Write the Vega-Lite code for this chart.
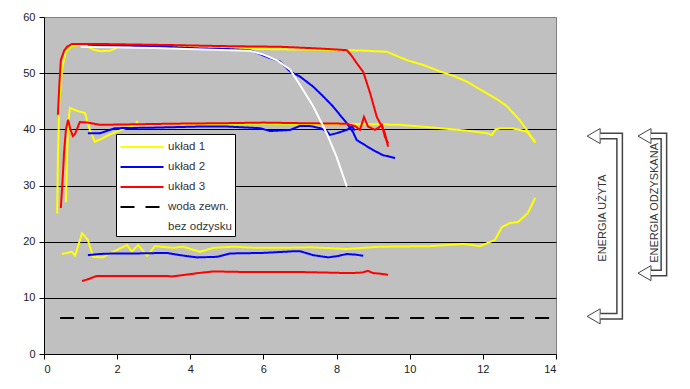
{
  "$schema": "https://vega.github.io/schema/vega-lite/v6.json",
  "autosize": "none",
  "width": 512,
  "height": 337,
  "padding": {"left": 44, "top": 17, "right": 134, "bottom": 35},
  "background": "white",
  "config": {
    "view": {"fill": "#C0C0C0", "stroke": "#808080", "strokeWidth": 1},
    "axis": {
      "domainColor": "black", "tickColor": "black", "tickSize": 5,
      "labelFont": "Liberation Sans", "labelFontSize": 11, "labelColor": "#222",
      "title": null
    },
    "legend": {
      "orient": "none", "legendX": 72, "legendY": 117,
      "fillColor": "white", "strokeColor": "black", "padding": 3,
      "symbolType": "M-2.39,0H2.39", "symbolSize": 324, "symbolStrokeWidth": 2,
      "labelFont": "Liberation Sans", "labelFontSize": 11.5, "labelColor": "#333",
      "labelOffset": 16, "rowPadding": 4, "symbolOffset": 13
    }
  },
  "datasets": {
    "main": [
      {"s": "układ 1", "c": "1a", "x": 0.36, "y": 25},
      {"s": "układ 1", "c": "1a", "x": 0.38, "y": 35},
      {"s": "układ 1", "c": "1a", "x": 0.42, "y": 45},
      {"s": "układ 1", "c": "1a", "x": 0.5, "y": 51},
      {"s": "układ 1", "c": "1a", "x": 0.6, "y": 53.8},
      {"s": "układ 1", "c": "1a", "x": 0.75, "y": 54.8},
      {"s": "układ 1", "c": "1a", "x": 1.0, "y": 55.0},
      {"s": "układ 1", "c": "1a", "x": 1.2, "y": 54.7},
      {"s": "układ 1", "c": "1a", "x": 1.35, "y": 54.2},
      {"s": "układ 1", "c": "1a", "x": 1.55, "y": 53.9},
      {"s": "układ 1", "c": "1a", "x": 1.8, "y": 54.0},
      {"s": "układ 1", "c": "1a", "x": 1.95, "y": 54.4},
      {"s": "układ 1", "c": "1a", "x": 2.05, "y": 54.8},
      {"s": "układ 1", "c": "1a", "x": 3.0, "y": 54.8},
      {"s": "układ 1", "c": "1a", "x": 4.0, "y": 54.6},
      {"s": "układ 1", "c": "1a", "x": 5.0, "y": 54.4},
      {"s": "układ 1", "c": "1a", "x": 6.0, "y": 54.3},
      {"s": "układ 1", "c": "1a", "x": 7.0, "y": 54.2},
      {"s": "układ 1", "c": "1a", "x": 8.28, "y": 54.1},
      {"s": "układ 1", "c": "1a", "x": 8.8, "y": 54.0},
      {"s": "układ 1", "c": "1a", "x": 9.38, "y": 53.8},
      {"s": "układ 1", "c": "1a", "x": 9.93, "y": 52.3},
      {"s": "układ 1", "c": "1a", "x": 10.4, "y": 51.4},
      {"s": "układ 1", "c": "1a", "x": 10.83, "y": 50.3},
      {"s": "układ 1", "c": "1a", "x": 11.2, "y": 49.5},
      {"s": "układ 1", "c": "1a", "x": 11.56, "y": 48.5},
      {"s": "układ 1", "c": "1a", "x": 12.11, "y": 46.4},
      {"s": "układ 1", "c": "1a", "x": 12.4, "y": 45.3},
      {"s": "układ 1", "c": "1a", "x": 12.66, "y": 44.1},
      {"s": "układ 1", "c": "1a", "x": 13.0, "y": 41.7},
      {"s": "układ 1", "c": "1a", "x": 13.2, "y": 39.9},
      {"s": "układ 1", "c": "1a", "x": 13.43, "y": 37.6},

      {"s": "układ 1", "c": "1b", "x": 0.6, "y": 27},
      {"s": "układ 1", "c": "1b", "x": 0.63, "y": 35},
      {"s": "układ 1", "c": "1b", "x": 0.66, "y": 41},
      {"s": "układ 1", "c": "1b", "x": 0.71, "y": 43.8},
      {"s": "układ 1", "c": "1b", "x": 0.9, "y": 43.3},
      {"s": "układ 1", "c": "1b", "x": 1.12, "y": 42.9},
      {"s": "układ 1", "c": "1b", "x": 1.25, "y": 40},
      {"s": "układ 1", "c": "1b", "x": 1.39, "y": 37.8},
      {"s": "układ 1", "c": "1b", "x": 1.6, "y": 38.4},
      {"s": "układ 1", "c": "1b", "x": 1.8, "y": 39.1},
      {"s": "układ 1", "c": "1b", "x": 2.0, "y": 39.6},
      {"s": "układ 1", "c": "1b", "x": 2.3, "y": 40.4},
      {"s": "układ 1", "c": "1b", "x": 2.5, "y": 40.8},
      {"s": "układ 1", "c": "1b", "x": 2.54, "y": 41.3},
      {"s": "układ 1", "c": "1b", "x": 2.6, "y": 40.7},
      {"s": "układ 1", "c": "1b", "x": 3.0, "y": 40.8},
      {"s": "układ 1", "c": "1b", "x": 4.0, "y": 40.9},
      {"s": "układ 1", "c": "1b", "x": 5.0, "y": 40.9},
      {"s": "układ 1", "c": "1b", "x": 6.0, "y": 41.0},
      {"s": "układ 1", "c": "1b", "x": 7.0, "y": 40.9},
      {"s": "układ 1", "c": "1b", "x": 8.0, "y": 40.9},
      {"s": "układ 1", "c": "1b", "x": 9.0, "y": 40.9},
      {"s": "układ 1", "c": "1b", "x": 9.74, "y": 40.8},
      {"s": "układ 1", "c": "1b", "x": 10.3, "y": 40.5},
      {"s": "układ 1", "c": "1b", "x": 10.83, "y": 40.2},
      {"s": "układ 1", "c": "1b", "x": 11.5, "y": 39.8},
      {"s": "układ 1", "c": "1b", "x": 12.11, "y": 39.3},
      {"s": "układ 1", "c": "1b", "x": 12.25, "y": 39.0},
      {"s": "układ 1", "c": "1b", "x": 12.35, "y": 40.0},
      {"s": "układ 1", "c": "1b", "x": 12.5, "y": 40.2},
      {"s": "układ 1", "c": "1b", "x": 12.8, "y": 40.2},
      {"s": "układ 1", "c": "1b", "x": 13.2, "y": 39.6},
      {"s": "układ 1", "c": "1b", "x": 13.43, "y": 37.8},

      {"s": "układ 1", "c": "1c", "x": 0.49, "y": 17.8},
      {"s": "układ 1", "c": "1c", "x": 0.76, "y": 18.2},
      {"s": "układ 1", "c": "1c", "x": 0.85, "y": 17.5},
      {"s": "układ 1", "c": "1c", "x": 1.04, "y": 21.5},
      {"s": "układ 1", "c": "1c", "x": 1.2, "y": 20.3},
      {"s": "układ 1", "c": "1c", "x": 1.34, "y": 17.3},
      {"s": "układ 1", "c": "1c", "x": 1.61, "y": 17.2},
      {"s": "układ 1", "c": "1c", "x": 1.89, "y": 18.2},
      {"s": "układ 1", "c": "1c", "x": 2.27, "y": 19.4},
      {"s": "układ 1", "c": "1c", "x": 2.4, "y": 18.2},
      {"s": "układ 1", "c": "1c", "x": 2.57, "y": 19.4},
      {"s": "układ 1", "c": "1c", "x": 2.82, "y": 17.5},
      {"s": "układ 1", "c": "1c", "x": 3.03, "y": 19.2},
      {"s": "układ 1", "c": "1c", "x": 3.53, "y": 18.9},
      {"s": "układ 1", "c": "1c", "x": 3.8, "y": 19.1},
      {"s": "układ 1", "c": "1c", "x": 4.27, "y": 18.2},
      {"s": "układ 1", "c": "1c", "x": 4.63, "y": 18.9},
      {"s": "układ 1", "c": "1c", "x": 5.18, "y": 19.1},
      {"s": "układ 1", "c": "1c", "x": 5.8, "y": 18.9},
      {"s": "układ 1", "c": "1c", "x": 6.45, "y": 18.9},
      {"s": "układ 1", "c": "1c", "x": 7.3, "y": 19.0},
      {"s": "układ 1", "c": "1c", "x": 8.28, "y": 18.7},
      {"s": "układ 1", "c": "1c", "x": 9.19, "y": 19.1},
      {"s": "układ 1", "c": "1c", "x": 10.56, "y": 19.2},
      {"s": "układ 1", "c": "1c", "x": 11.46, "y": 19.6},
      {"s": "układ 1", "c": "1c", "x": 11.92, "y": 19.2},
      {"s": "układ 1", "c": "1c", "x": 12.14, "y": 19.8},
      {"s": "układ 1", "c": "1c", "x": 12.33, "y": 20.3},
      {"s": "układ 1", "c": "1c", "x": 12.52, "y": 22.6},
      {"s": "układ 1", "c": "1c", "x": 12.74, "y": 23.3},
      {"s": "układ 1", "c": "1c", "x": 12.96, "y": 23.5},
      {"s": "układ 1", "c": "1c", "x": 13.23, "y": 25.1},
      {"s": "układ 1", "c": "1c", "x": 13.43, "y": 27.8},

      {"s": "układ 2", "c": "2a", "x": 1.2, "y": 54.8},
      {"s": "układ 2", "c": "2a", "x": 2.0, "y": 54.9},
      {"s": "układ 2", "c": "2a", "x": 3.0, "y": 54.8},
      {"s": "układ 2", "c": "2a", "x": 4.27, "y": 54.4},
      {"s": "układ 2", "c": "2a", "x": 5.0, "y": 54.3},
      {"s": "układ 2", "c": "2a", "x": 5.63, "y": 54.1},
      {"s": "układ 2", "c": "2a", "x": 6.09, "y": 52.9},
      {"s": "układ 2", "c": "2a", "x": 6.45, "y": 52.1},
      {"s": "układ 2", "c": "2a", "x": 6.73, "y": 50.3},
      {"s": "układ 2", "c": "2a", "x": 7.0, "y": 49.4},
      {"s": "układ 2", "c": "2a", "x": 7.36, "y": 47.6},
      {"s": "układ 2", "c": "2a", "x": 7.63, "y": 45.9},
      {"s": "układ 2", "c": "2a", "x": 7.9, "y": 44.1},
      {"s": "układ 2", "c": "2a", "x": 8.1, "y": 42.5},
      {"s": "układ 2", "c": "2a", "x": 8.28, "y": 41.1},
      {"s": "układ 2", "c": "2a", "x": 8.45, "y": 39.5},
      {"s": "układ 2", "c": "2a", "x": 8.55, "y": 38.1},
      {"s": "układ 2", "c": "2a", "x": 9.0, "y": 36.3},
      {"s": "układ 2", "c": "2a", "x": 9.27, "y": 35.4},
      {"s": "układ 2", "c": "2a", "x": 9.6, "y": 34.9},

      {"s": "układ 2", "c": "2b", "x": 1.2, "y": 39.3},
      {"s": "układ 2", "c": "2b", "x": 1.53, "y": 39.3},
      {"s": "układ 2", "c": "2b", "x": 1.94, "y": 40.2},
      {"s": "układ 2", "c": "2b", "x": 3.0, "y": 40.3},
      {"s": "układ 2", "c": "2b", "x": 4.26, "y": 40.5},
      {"s": "układ 2", "c": "2b", "x": 5.0, "y": 40.5},
      {"s": "układ 2", "c": "2b", "x": 5.9, "y": 40.2},
      {"s": "układ 2", "c": "2b", "x": 6.18, "y": 39.7},
      {"s": "układ 2", "c": "2b", "x": 6.5, "y": 39.8},
      {"s": "układ 2", "c": "2b", "x": 6.73, "y": 39.9},
      {"s": "układ 2", "c": "2b", "x": 7.0, "y": 40.6},
      {"s": "układ 2", "c": "2b", "x": 7.27, "y": 40.6},
      {"s": "układ 2", "c": "2b", "x": 7.55, "y": 40.2},
      {"s": "układ 2", "c": "2b", "x": 7.73, "y": 39.7},
      {"s": "układ 2", "c": "2b", "x": 7.82, "y": 39.0},
      {"s": "układ 2", "c": "2b", "x": 8.05, "y": 39.4},
      {"s": "układ 2", "c": "2b", "x": 8.28, "y": 39.9},
      {"s": "układ 2", "c": "2b", "x": 8.42, "y": 40.5},
      {"s": "układ 2", "c": "2b", "x": 8.5, "y": 39.8},

      {"s": "układ 2", "c": "2c", "x": 1.2, "y": 17.6},
      {"s": "układ 2", "c": "2c", "x": 1.5, "y": 17.8},
      {"s": "układ 2", "c": "2c", "x": 1.89, "y": 17.9},
      {"s": "układ 2", "c": "2c", "x": 2.5, "y": 17.9},
      {"s": "układ 2", "c": "2c", "x": 3.36, "y": 18.0},
      {"s": "układ 2", "c": "2c", "x": 3.72, "y": 17.6},
      {"s": "układ 2", "c": "2c", "x": 4.18, "y": 17.2},
      {"s": "układ 2", "c": "2c", "x": 4.73, "y": 17.3},
      {"s": "układ 2", "c": "2c", "x": 5.09, "y": 17.9},
      {"s": "układ 2", "c": "2c", "x": 6.0, "y": 18.0},
      {"s": "układ 2", "c": "2c", "x": 6.86, "y": 18.3},
      {"s": "układ 2", "c": "2c", "x": 7.0, "y": 18.3},
      {"s": "układ 2", "c": "2c", "x": 7.36, "y": 17.6},
      {"s": "układ 2", "c": "2c", "x": 7.77, "y": 17.2},
      {"s": "układ 2", "c": "2c", "x": 8.0, "y": 17.4},
      {"s": "układ 2", "c": "2c", "x": 8.28, "y": 17.8},
      {"s": "układ 2", "c": "2c", "x": 8.5, "y": 17.7},
      {"s": "układ 2", "c": "2c", "x": 8.73, "y": 17.5},

      {"s": "układ 3", "c": "3a", "x": 0.38, "y": 42.6},
      {"s": "układ 3", "c": "3a", "x": 0.42, "y": 48},
      {"s": "układ 3", "c": "3a", "x": 0.46, "y": 52.3},
      {"s": "układ 3", "c": "3a", "x": 0.55, "y": 54.0},
      {"s": "układ 3", "c": "3a", "x": 0.63, "y": 54.7},
      {"s": "układ 3", "c": "3a", "x": 0.76, "y": 55.2},
      {"s": "układ 3", "c": "3a", "x": 1.5, "y": 55.2},
      {"s": "układ 3", "c": "3a", "x": 2.5, "y": 55.1},
      {"s": "układ 3", "c": "3a", "x": 3.5, "y": 55.0},
      {"s": "układ 3", "c": "3a", "x": 4.26, "y": 54.9},
      {"s": "układ 3", "c": "3a", "x": 5.09, "y": 54.8},
      {"s": "układ 3", "c": "3a", "x": 6.45, "y": 54.7},
      {"s": "układ 3", "c": "3a", "x": 7.5, "y": 54.4},
      {"s": "układ 3", "c": "3a", "x": 8.28, "y": 54.1},
      {"s": "układ 3", "c": "3a", "x": 8.4, "y": 53.2},
      {"s": "układ 3", "c": "3a", "x": 8.55, "y": 51.8},
      {"s": "układ 3", "c": "3a", "x": 8.73, "y": 50.2},
      {"s": "układ 3", "c": "3a", "x": 8.92, "y": 46.4},
      {"s": "układ 3", "c": "3a", "x": 9.1, "y": 42.2},
      {"s": "układ 3", "c": "3a", "x": 9.24, "y": 40.5},
      {"s": "układ 3", "c": "3a", "x": 9.32, "y": 39.3},
      {"s": "układ 3", "c": "3a", "x": 9.41, "y": 36.9},

      {"s": "układ 3", "c": "3b", "x": 0.46, "y": 26},
      {"s": "układ 3", "c": "3b", "x": 0.5, "y": 30},
      {"s": "układ 3", "c": "3b", "x": 0.55, "y": 36},
      {"s": "układ 3", "c": "3b", "x": 0.6, "y": 40},
      {"s": "układ 3", "c": "3b", "x": 0.66, "y": 41.7},
      {"s": "układ 3", "c": "3b", "x": 0.72, "y": 40},
      {"s": "układ 3", "c": "3b", "x": 0.79, "y": 38.8},
      {"s": "układ 3", "c": "3b", "x": 0.85, "y": 39.2},
      {"s": "układ 3", "c": "3b", "x": 0.98, "y": 41.3},
      {"s": "układ 3", "c": "3b", "x": 1.2, "y": 41.2},
      {"s": "układ 3", "c": "3b", "x": 1.53, "y": 40.8},
      {"s": "układ 3", "c": "3b", "x": 2.5, "y": 40.9},
      {"s": "układ 3", "c": "3b", "x": 3.5, "y": 41.0},
      {"s": "układ 3", "c": "3b", "x": 5.0, "y": 41.1},
      {"s": "układ 3", "c": "3b", "x": 6.0, "y": 41.2},
      {"s": "układ 3", "c": "3b", "x": 7.0, "y": 41.1},
      {"s": "układ 3", "c": "3b", "x": 8.28, "y": 41.0},
      {"s": "układ 3", "c": "3b", "x": 8.5, "y": 40.6},
      {"s": "układ 3", "c": "3b", "x": 8.64, "y": 39.9},
      {"s": "układ 3", "c": "3b", "x": 8.75, "y": 42.2},
      {"s": "układ 3", "c": "3b", "x": 8.86, "y": 40.5},
      {"s": "układ 3", "c": "3b", "x": 9.05, "y": 39.9},
      {"s": "układ 3", "c": "3b", "x": 9.15, "y": 40.3},
      {"s": "układ 3", "c": "3b", "x": 9.24, "y": 40.8},
      {"s": "układ 3", "c": "3b", "x": 9.32, "y": 38.7},
      {"s": "układ 3", "c": "3b", "x": 9.41, "y": 37.5},

      {"s": "układ 3", "c": "3c", "x": 1.04, "y": 13.0},
      {"s": "układ 3", "c": "3c", "x": 1.2, "y": 13.3},
      {"s": "układ 3", "c": "3c", "x": 1.44, "y": 13.9},
      {"s": "układ 3", "c": "3c", "x": 2.5, "y": 13.9},
      {"s": "układ 3", "c": "3c", "x": 3.36, "y": 13.9},
      {"s": "układ 3", "c": "3c", "x": 3.5, "y": 13.8},
      {"s": "układ 3", "c": "3c", "x": 3.99, "y": 14.2},
      {"s": "układ 3", "c": "3c", "x": 4.2, "y": 14.4},
      {"s": "układ 3", "c": "3c", "x": 4.63, "y": 14.7},
      {"s": "układ 3", "c": "3c", "x": 5.5, "y": 14.6},
      {"s": "układ 3", "c": "3c", "x": 7.0, "y": 14.6},
      {"s": "układ 3", "c": "3c", "x": 8.37, "y": 14.4},
      {"s": "układ 3", "c": "3c", "x": 8.7, "y": 14.5},
      {"s": "układ 3", "c": "3c", "x": 8.86, "y": 14.8},
      {"s": "układ 3", "c": "3c", "x": 9.0, "y": 14.4},
      {"s": "układ 3", "c": "3c", "x": 9.2, "y": 14.3},
      {"s": "układ 3", "c": "3c", "x": 9.41, "y": 14.1},

      {"s": "woda zewn.", "c": "w", "x": 0.44, "y": 6.4},
      {"s": "woda zewn.", "c": "w", "x": 14, "y": 6.4}
    ],
    "white": [
      {"x": 1.0, "y": 54.7},
      {"x": 3.0, "y": 54.5},
      {"x": 5.09, "y": 54.1},
      {"x": 5.63, "y": 54.0},
      {"x": 6.0, "y": 53.3},
      {"x": 6.37, "y": 52.3},
      {"x": 6.73, "y": 50.6},
      {"x": 7.0, "y": 47.9},
      {"x": 7.36, "y": 44.1},
      {"x": 7.73, "y": 39.3},
      {"x": 8.0, "y": 35.1},
      {"x": 8.28, "y": 29.8}
    ],
    "brackets": [
      {"b": "użyta", "o": 1, "x": 15.21, "y": 38.8},
      {"b": "użyta", "o": 2, "x": 15.74, "y": 38.8},
      {"b": "użyta", "o": 3, "x": 15.74, "y": 6.7},
      {"b": "użyta", "o": 4, "x": 15.21, "y": 6.7},
      {"b": "odzyskana", "o": 1, "x": 16.59, "y": 38.8},
      {"b": "odzyskana", "o": 2, "x": 16.95, "y": 38.8},
      {"b": "odzyskana", "o": 3, "x": 16.95, "y": 14.4},
      {"b": "odzyskana", "o": 4, "x": 16.59, "y": 14.4}
    ],
    "heads": [
      {"x": 15.03, "y": 38.8},
      {"x": 15.03, "y": 6.7},
      {"x": 16.42, "y": 38.8},
      {"x": 16.42, "y": 14.4}
    ],
    "labels": [
      {"t": "ENERGIA  UŻYTA", "x": 15.29, "y": 24.2},
      {"t": "ENERGIA ODZYSKANA", "x": 16.71, "y": 26.9}
    ]
  },
  "layer": [
    {
      "data": {"name": "main"},
      "mark": {"type": "line", "strokeWidth": 2},
      "encoding": {
        "x": {"field": "x", "type": "quantitative",
              "scale": {"domain": [0, 14], "nice": false, "zero": false},
              "axis": {"values": [0, 2, 4, 6, 8, 10, 12, 14], "grid": false, "labelPadding": 4}},
        "y": {"field": "y", "type": "quantitative",
              "scale": {"domain": [0, 60], "nice": false},
              "axis": {"values": [0, 10, 20, 30, 40, 50, 60], "grid": true, "gridWidth": 1,
                       "gridColor": {"condition": {"test": "datum.value === 60", "value": "#808080"}, "value": "black"},
                       "labelPadding": 4}},
        "detail": {"field": "c"},
        "color": {"field": "s", "type": "nominal",
                  "scale": {"domain": ["układ 1", "układ 2", "układ 3", "woda zewn.", "bez odzysku"],
                            "range": ["#FFFF00", "#0000FF", "#FF0000", "black", "transparent"]},
                  "legend": {"title": null}},
        "strokeDash": {"field": "s", "type": "nominal",
                  "scale": {"domain": ["układ 1", "układ 2", "układ 3", "woda zewn.", "bez odzysku"],
                            "range": [[1, 0], [1, 0], [1, 0], [14, 11], [1, 0]]},
                  "legend": {"title": null}}
      }
    },
    {
      "data": {"name": "white"},
      "mark": {"type": "line", "strokeWidth": 2, "color": "white"},
      "encoding": {
        "x": {"field": "x", "type": "quantitative"},
        "y": {"field": "y", "type": "quantitative"}
      }
    },
    {
      "data": {"name": "brackets"},
      "mark": {"type": "line", "strokeWidth": 7, "color": "#444", "strokeJoin": "miter", "clip": false},
      "encoding": {
        "x": {"field": "x", "type": "quantitative"},
        "y": {"field": "y", "type": "quantitative"},
        "detail": {"field": "b"},
        "order": {"field": "o"}
      }
    },
    {
      "data": {"name": "heads"},
      "mark": {"type": "point", "shape": "triangle-left", "size": 225, "filled": true, "fill": "white", "stroke": "#444", "strokeWidth": 1, "opacity": 1, "clip": false},
      "encoding": {
        "x": {"field": "x", "type": "quantitative"},
        "y": {"field": "y", "type": "quantitative"}
      }
    },
    {
      "data": {"name": "brackets"},
      "mark": {"type": "line", "strokeWidth": 4, "color": "white", "strokeJoin": "miter", "clip": false},
      "encoding": {
        "x": {"field": "x", "type": "quantitative"},
        "y": {"field": "y", "type": "quantitative"},
        "detail": {"field": "b"},
        "order": {"field": "o"}
      }
    },
    {
      "data": {"name": "labels"},
      "mark": {"type": "text", "angle": 270, "align": "center", "baseline": "middle", "font": "Liberation Sans", "fontSize": 11, "color": "#333", "clip": false},
      "encoding": {
        "x": {"field": "x", "type": "quantitative"},
        "y": {"field": "y", "type": "quantitative"},
        "text": {"field": "t"}
      }
    }
  ]
}
